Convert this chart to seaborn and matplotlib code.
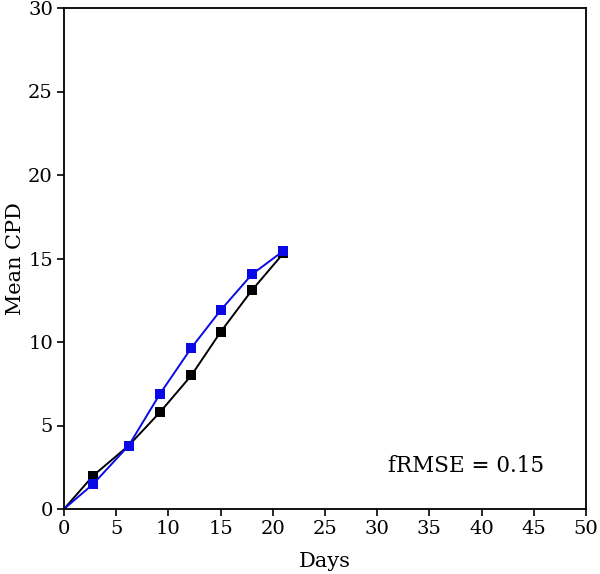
import matplotlib
matplotlib.use("Agg")
import matplotlib.pyplot as plt
import seaborn as sns
import pandas as pd

days_black = [0, 2.8, 6.2, 9.2, 12.2, 15.0, 18.0, 21.0]
cpd_black = [0, 2.0, 3.8, 5.8, 8.0, 10.6, 13.1, 15.3]
days_blue = [0, 2.8, 6.2, 9.2, 12.2, 15.0, 18.0, 21.0]
cpd_blue = [0, 1.5, 3.8, 6.9, 9.65, 11.9, 14.05, 15.45]
annotation = "fRMSE = 0.15"

sns.set_theme(style="white")
plt.rcParams['font.family'] = ['DejaVu Serif']

fig = plt.figure(figsize=(6.0, 5.74), dpi=100)
ax = fig.add_axes([64/600, 1 - 509/574, (586-64)/600, (509-8)/574])

df_black = pd.DataFrame({"Days": days_black, "CPD": cpd_black})
df_blue = pd.DataFrame({"Days": days_blue, "CPD": cpd_blue})

sns.lineplot(data=df_black, x="Days", y="CPD", ax=ax, color="black", lw=1.4,
             marker="s", markersize=7, markeredgewidth=0, markevery=list(range(1, len(days_black))))
sns.lineplot(data=df_blue, x="Days", y="CPD", ax=ax, color="#0a0ae6", lw=1.4,
             marker="s", markersize=7, markeredgewidth=0, markevery=list(range(1, len(days_blue))))

ax.set_xlim(0, 50)
ax.set_ylim(0, 30)
ax.set_xticks(range(0, 51, 5))
ax.set_yticks(range(0, 31, 5))
ax.set_xlabel("Days", fontsize=15, color="black", labelpad=10)
ax.set_ylabel("Mean CPD", fontsize=15, color="black", labelpad=2)
ax.tick_params(axis="both", which="both", direction="out", length=5, width=1.2,
               labelsize=14, pad=3, colors="black", bottom=True, left=True, top=False, right=False)
for s in ax.spines.values():
    s.set_color("black")
    s.set_linewidth(1.3)
ax.text(31, 2.6, annotation, fontsize=15.5, color="black", va="center", ha="left")

fig.savefig("out.png", dpi=100)
